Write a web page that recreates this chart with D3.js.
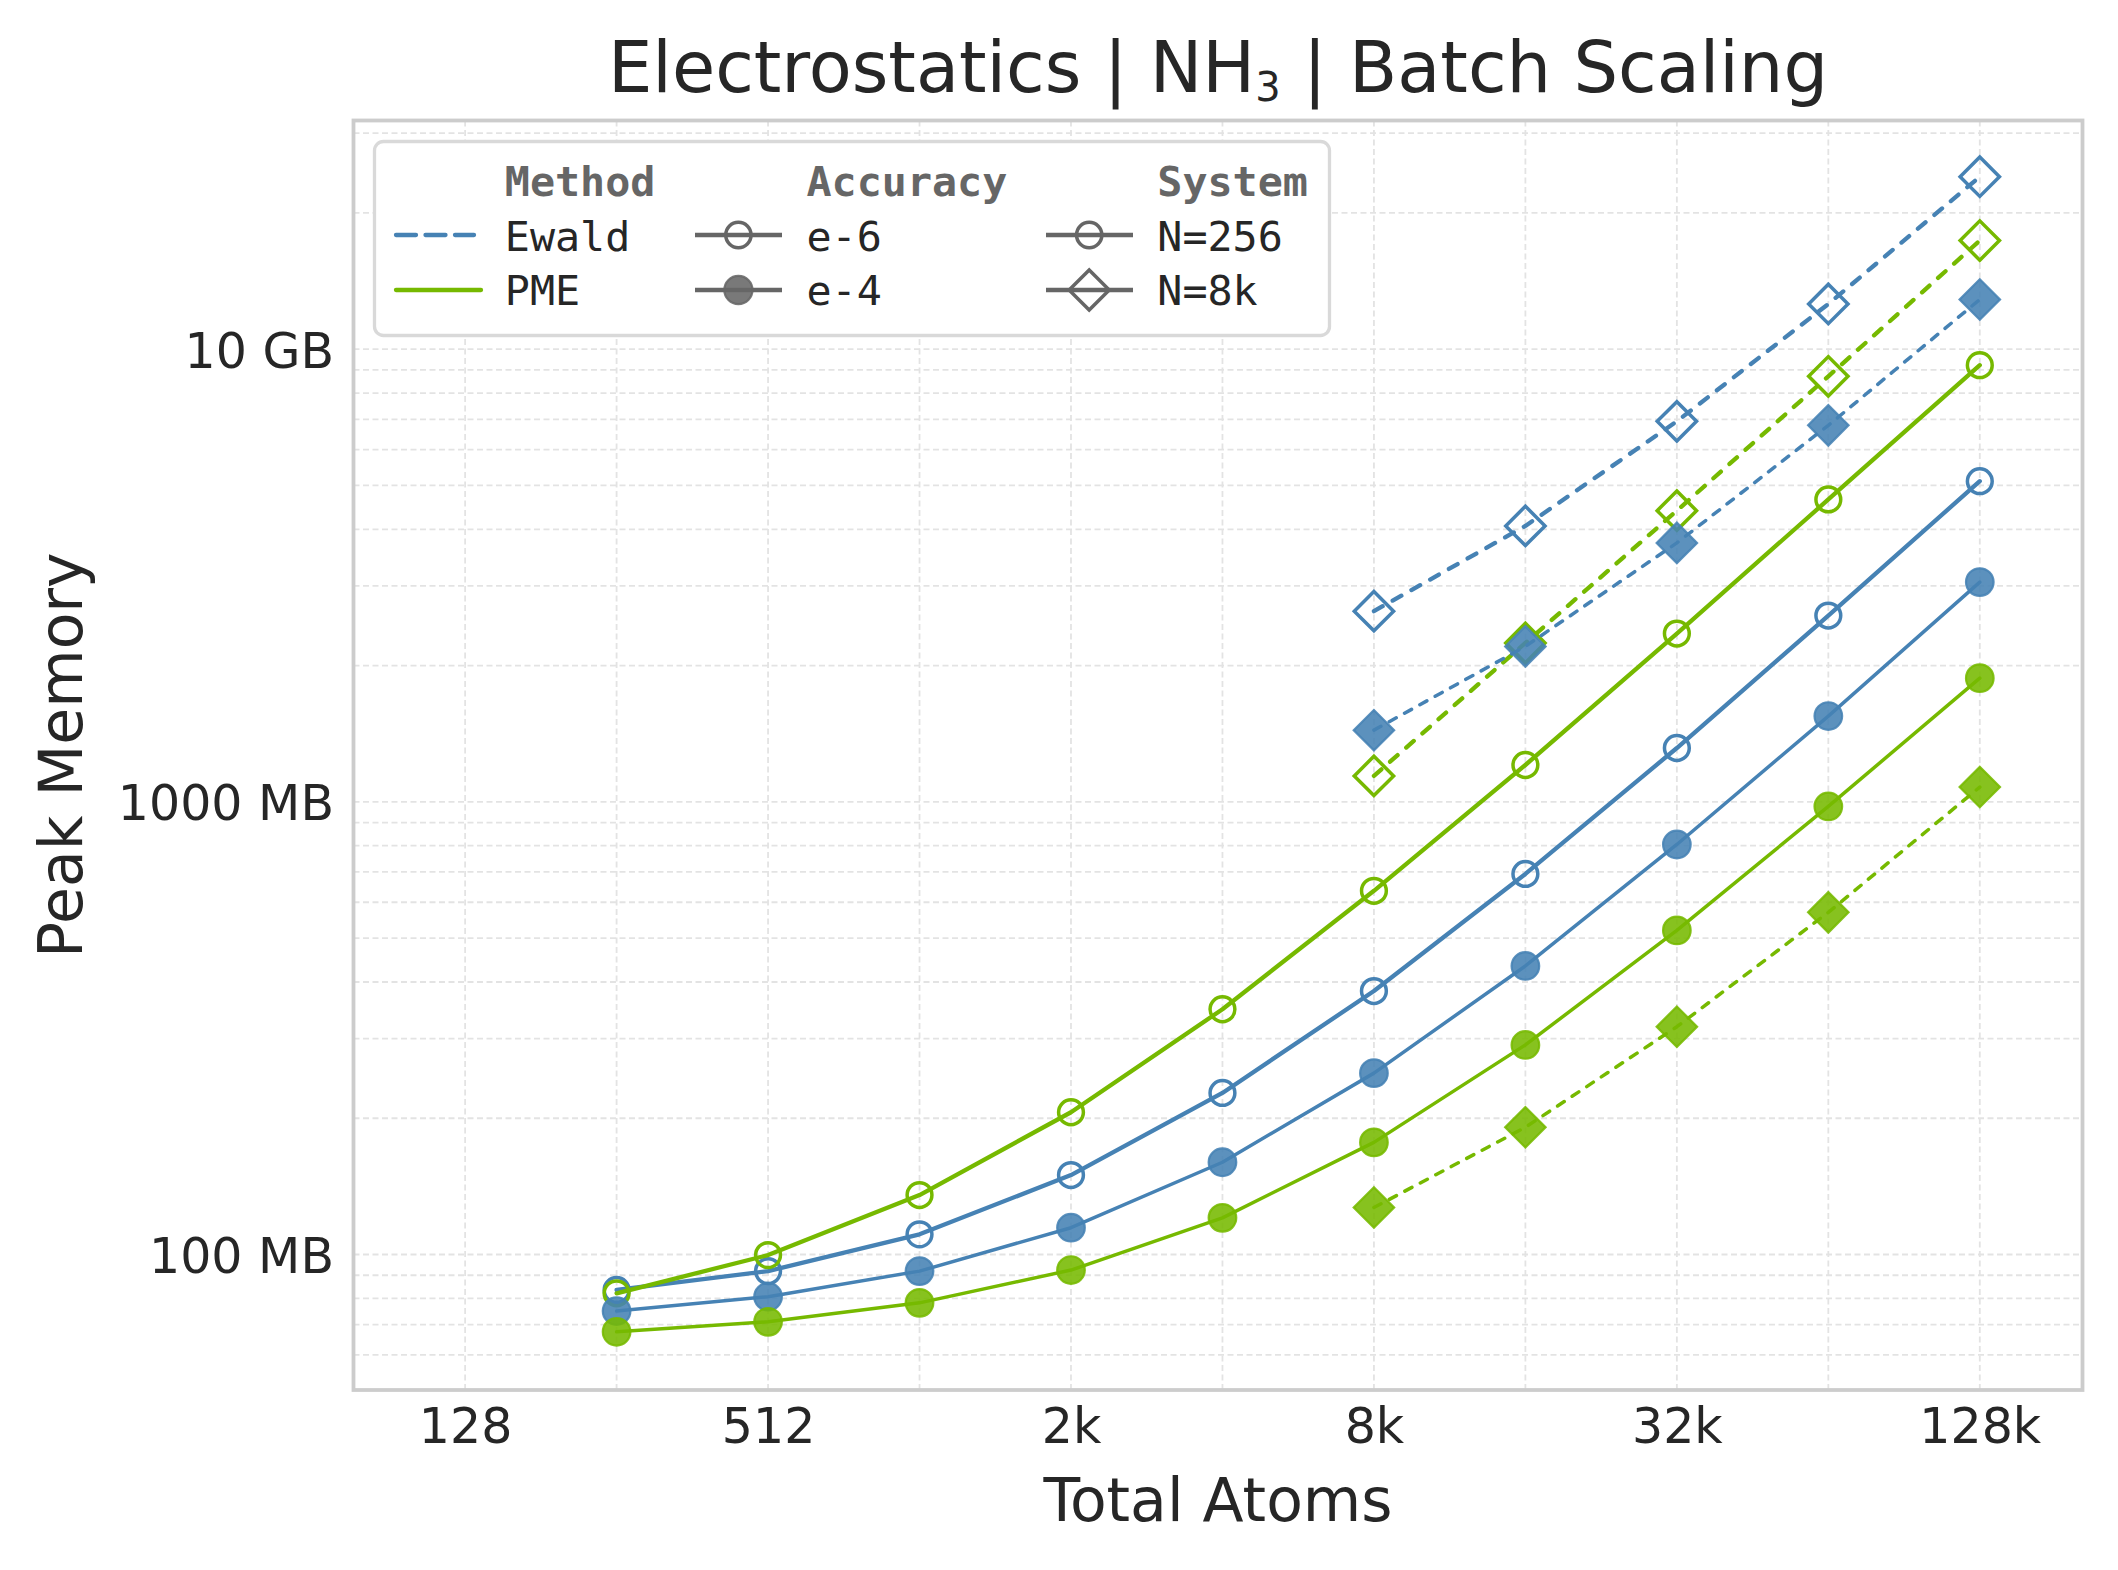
<!DOCTYPE html>
<html>
<head>
<meta charset="utf-8">
<script src="https://cdn.jsdelivr.net/npm/d3@7"></script>
<style>
  body { margin: 0; background: #fff; }
  text { font-family: "DejaVu Sans", sans-serif; fill: #262626; }
  .mono { font-family: "DejaVu Sans Mono", monospace; }
</style>
</head>
<body>
<div id="chart"></div>
<script>
// total atoms in the batch
const atoms = [256, 512, 1024, 2048, 4096, 8192, 16384, 32768, 65536, 131072];
const atoms8k = [8192, 16384, 32768, 65536, 131072];

// peak memory in MB
const ewaldE6N256 = [83.5, 91.9, 110.8, 149.8, 227.5, 382, 693, 1315, 2579, 5110];
const ewaldE4N256 = [75.0, 80.7, 91.9, 114.6, 159.9, 251.6, 434, 805, 1547, 3058];
const pmeE6N256   = [82.1, 99.7, 135.3, 206.2, 348.2, 636, 1206, 2354, 4656, 9219];
const pmeE4N256   = [67.5, 71.0, 78.2, 92.4, 120.5, 176.9, 290.4, 520, 977, 1876];

const ewaldE6N8k = [2638, 4070, 6927, 12585, 24040];
const ewaldE4N8k = [1440, 2205, 3733, 6787, 12876];
const pmeE6N8k   = [1141, 2244, 4398, 8711, 17378];
const pmeE4N8k   = [127.0, 191.0, 318.6, 570, 1078];

const xTickValues = [128, 512, 2048, 8192, 32768, 131072];
const xTickLabels = ["128", "512", "2k", "8k", "32k", "128k"];
const yTickValues = [100, 1000, 10000];
const yTickLabels = ["100 MB", "1000 MB", "10 GB"];

const methods = ["Ewald", "PME"];
const accuracies = ["e-6", "e-4"];
const systems = ["N=256", "N=8k"];

(function() {
    const width = 2118;
    const height = 1570;
    const left = 353.5, right = 2082.5, top = 120.5, bottom = 1390;

    const colors = { Ewald: "#4682b4", PME: "#76b900" };

    const svg = d3.select("#chart")
        .append("svg")
        .attr("width", width)
        .attr("height", height);

    svg.append("rect").attr("width", width).attr("height", height).attr("fill", "#fff");

    const x = d3.scaleLog().base(2)
        .domain([256 * 0.3, 131072 * 1.6])
        .range([left, right]);

    const y = d3.scaleLog()
        .domain([50.2, 32000])
        .range([bottom, top]);

    // grid
    const grid = svg.append("g").attr("class", "grid");
    const xGrid = d3.range(7, 18).map(k => Math.pow(2, k));
    grid.selectAll(".vx").data(xGrid).enter().append("line")
        .attr("x1", d => x(d)).attr("x2", d => x(d))
        .attr("y1", top).attr("y2", bottom)
        .attr("stroke", "#e3e3e3").attr("stroke-width", 1.8)
        .attr("stroke-dasharray", "6,3.5");
    grid.selectAll(".hy").data(y.ticks()).enter().append("line")
        .attr("x1", left).attr("x2", right)
        .attr("y1", d => y(d)).attr("y2", d => y(d))
        .attr("stroke", "#e3e3e3").attr("stroke-width", 1.8)
        .attr("stroke-dasharray", "6,3.5");

    // axes
    const xAxis = svg.append("g")
        .attr("transform", `translate(0,${bottom})`)
        .call(d3.axisBottom(x).tickValues(xTickValues)
            .tickFormat((d, i) => xTickLabels[i]).tickSize(0).tickPadding(18));
    const yAxis = svg.append("g")
        .attr("transform", `translate(${left},0)`)
        .call(d3.axisLeft(y).tickValues(yTickValues)
            .tickFormat((d, i) => yTickLabels[i]).tickSize(0).tickPadding(19.5));
    [xAxis, yAxis].forEach(a => {
        a.select(".domain").remove();
        a.selectAll("text")
            .attr("fill", "#262626")
            .style("font-family", "DejaVu Sans")
            .style("font-size", "49px");
    });
    yAxis.selectAll("text").attr("dy", "0.37em");

    // series, drawn per system / accuracy / method
    const series = [
        { method: "Ewald", acc: "e-6", sys: "N=256", xs: atoms, ys: ewaldE6N256 },
        { method: "PME",   acc: "e-6", sys: "N=256", xs: atoms, ys: pmeE6N256 },
        { method: "Ewald", acc: "e-4", sys: "N=256", xs: atoms, ys: ewaldE4N256 },
        { method: "PME",   acc: "e-4", sys: "N=256", xs: atoms, ys: pmeE4N256 },
        { method: "PME",   acc: "e-6", sys: "N=8k",  xs: atoms8k, ys: pmeE6N8k },
        { method: "Ewald", acc: "e-6", sys: "N=8k",  xs: atoms8k, ys: ewaldE6N8k },
        { method: "Ewald", acc: "e-4", sys: "N=8k",  xs: atoms8k, ys: ewaldE4N8k },
        { method: "PME",   acc: "e-4", sys: "N=8k",  xs: atoms8k, ys: pmeE4N8k }
    ];

    const line = d3.line().x(d => x(d[0])).y(d => y(d[1]));
    const plot = svg.append("g").attr("class", "plot");

    function drawMarker(g, cx, cy, color, acc, sys, scale) {
        const open = acc === "e-6";
        let m;
        if (sys === "N=256") {
            m = g.append("circle").attr("cx", cx).attr("cy", cy)
                .attr("r", (open ? 12.4 : 13.8) * scale);
        } else {
            const side = (open ? 27.8 : 28.6) * scale;
            m = g.append("path")
                .attr("d", d3.symbol(d3.symbolSquare, side * side)())
                .attr("transform", `translate(${cx},${cy}) rotate(45)`);
        }
        if (open) {
            m.attr("fill", "none").attr("stroke", color).attr("stroke-width", 3.5);
        } else {
            m.attr("fill", color).attr("fill-opacity", 0.88)
                .attr("stroke", color).attr("stroke-opacity", 0.88).attr("stroke-width", 2.2);
        }
    }

    series.forEach(s => {
        const pts = s.xs.map((v, i) => [v, s.ys[i]]);
        const lw = s.acc === "e-6" ? 4.3 : 3.5;
        const p = plot.append("path")
            .datum(pts)
            .attr("d", line)
            .attr("fill", "none")
            .attr("stroke", colors[s.method])
            .attr("stroke-width", lw)
            .attr("stroke-linejoin", "round")
            .attr("stroke-linecap", "round");
        if (s.sys === "N=8k") {
            p.attr("stroke-dasharray", s.acc === "e-6" ? "10,11.5" : "8,9.5");
        }
        pts.forEach(d => drawMarker(plot, x(d[0]), y(d[1]), colors[s.method], s.acc, s.sys, 1));
    });

    // frame
    svg.append("rect")
        .attr("x", left).attr("y", top)
        .attr("width", right - left).attr("height", bottom - top)
        .attr("fill", "none").attr("stroke", "#cccccc").attr("stroke-width", 3.8);

    // legend
    const lg = svg.append("g").attr("class", "legend");
    lg.append("rect")
        .attr("x", 374.5).attr("y", 141.5)
        .attr("width", 955).attr("height", 194)
        .attr("rx", 9).attr("fill", "#fff")
        .attr("stroke", "#d9d9d9").attr("stroke-width", 3.3);

    const headerY = 196, rowY = [250.5, 305], handleY = [235, 290];
    const textX = [504.8, 806.5, 1157.3];
    const headers = ["Method", "Accuracy", "System"];
    headers.forEach((h, i) => {
        lg.append("text").attr("class", "mono")
            .attr("x", textX[i]).attr("y", headerY)
            .style("font-size", "41.7px").style("font-weight", "bold")
            .style("fill", "#666666")
            .text(h);
    });

    methods.forEach((m, i) => {
        const l = lg.append("line")
            .attr("x1", 396).attr("x2", m === "Ewald" ? 474 : 481)
            .attr("y1", handleY[i]).attr("y2", handleY[i])
            .attr("stroke", colors[m]).attr("stroke-width", 4.3)
            .attr("stroke-linecap", "round");
        if (m === "Ewald") l.attr("stroke-dasharray", "20,9.5");
        lg.append("text").attr("class", "mono")
            .attr("x", textX[0]).attr("y", rowY[i])
            .style("font-size", "41.7px").text(m);
    });

    accuracies.forEach((a, i) => {
        lg.append("line")
            .attr("x1", 695).attr("x2", 782)
            .attr("y1", handleY[i]).attr("y2", handleY[i])
            .attr("stroke", "#666666").attr("stroke-width", 4.3);
        drawMarker(lg, 738.4, handleY[i], "#666666", a, "N=256", 1.02);
        lg.append("text").attr("class", "mono")
            .attr("x", textX[1]).attr("y", rowY[i])
            .style("font-size", "41.7px").text(a);
    });

    systems.forEach((sy, i) => {
        lg.append("line")
            .attr("x1", 1046).attr("x2", 1133)
            .attr("y1", handleY[i]).attr("y2", handleY[i])
            .attr("stroke", "#666666").attr("stroke-width", 4.3);
        drawMarker(lg, 1089.2, handleY[i], "#666666", "e-6", sy, 1.02);
        lg.append("text").attr("class", "mono")
            .attr("x", textX[2]).attr("y", rowY[i])
            .style("font-size", "41.7px").text(sy);
    });

    // title and axis labels
    const title = svg.append("text")
        .attr("x", (left + right) / 2).attr("y", 91.5)
        .attr("text-anchor", "middle")
        .style("font-size", "70.3px");
    title.append("tspan").text("Electrostatics | NH");
    title.append("tspan").attr("dy", 9).style("font-size", "40px").text("3");
    title.append("tspan").attr("dy", -9).text(" | Batch Scaling");

    svg.append("text")
        .attr("x", (left + right) / 2).attr("y", 1521)
        .attr("text-anchor", "middle")
        .style("font-size", "60px")
        .text("Total Atoms");

    svg.append("text")
        .attr("transform", `translate(82,${(top + bottom) / 2}) rotate(-90)`)
        .attr("text-anchor", "middle")
        .style("font-size", "60px")
        .text("Peak Memory");
})();
</script>
</body>
</html>
